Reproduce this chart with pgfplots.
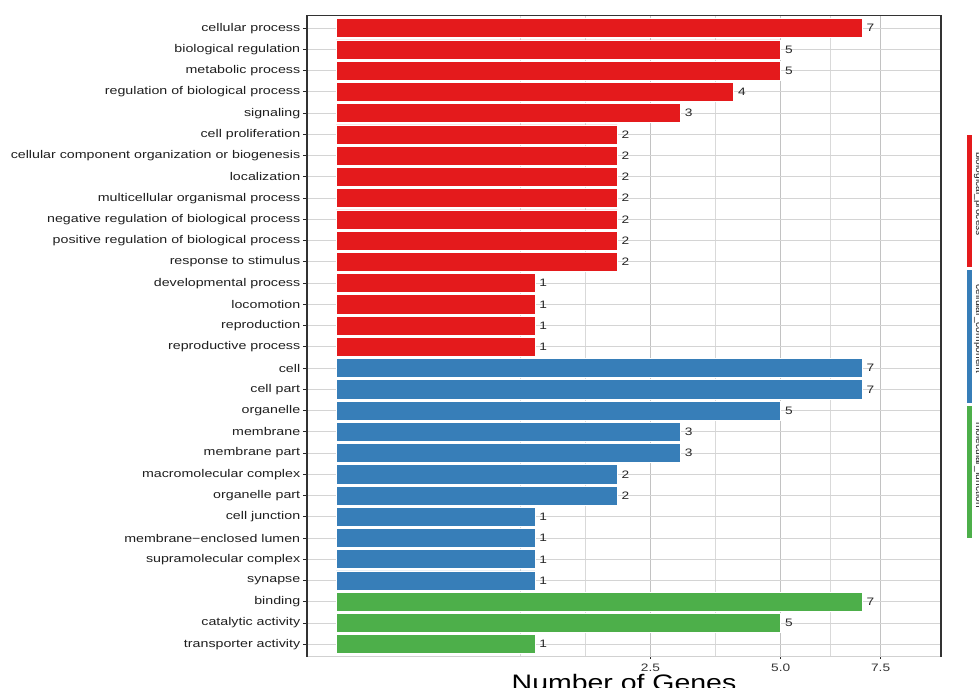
\documentclass[border=0pt]{standalone}
\usepackage{pgfplots}
\pgfplotsset{compat=1.18}
\usepackage{pgfplotstable}
\usepackage{fontspec}
\setmainfont{Liberation Sans}[FakeStretch=1.27]
\newfontfamily\keyfont{Liberation Sans}

\definecolor{bpred}{HTML}{E41A1C}
\definecolor{ccblue}{HTML}{377EB8}
\definecolor{mfgreen}{HTML}{4DAF4A}

% GO term counts, one table per ontology (idx = row from the top)
\pgfplotstableread{
idx n
0 7
1 5
2 5
3 4
4 3
5 2
6 2
7 2
8 2
9 2
10 2
11 2
12 1
13 1
14 1
15 1
}\bioproc
\pgfplotstableread{
idx n
16 7
17 7
18 5
19 3
20 3
21 2
22 2
23 1
24 1
25 1
26 1
}\cellcomp
\pgfplotstableread{
idx n
27 7
28 5
29 1
}\molfunc

\begin{document}
\begin{tikzpicture}
\begin{axis}[
  at={(153.5pt,15.5pt)}, anchor=south west,
  scale only axis, width=317pt, height=320.75pt,
  clip=false,
  xbar, bar width=0.9,
  % square-root scale on x: bars are drawn at sqrt(n)
  xmin=-0.1469, xmax=3.0423,
  ymin=-0.6, ymax=29.6, y dir=reverse,
  ytick={0,...,29},
  yticklabels={cellular process, biological regulation, metabolic process,
    regulation of biological process, signaling, cell proliferation,
    cellular component organization or biogenesis, localization,
    multicellular organismal process, negative regulation of biological process,
    positive regulation of biological process, response to stimulus,
    developmental process, locomotion, reproduction, reproductive process,
    cell, cell part, organelle, membrane, membrane part, macromolecular complex,
    organelle part, cell junction, membrane−enclosed lumen,
    supramolecular complex, synapse, binding, catalytic activity,
    transporter activity},
  xtick={1.5811388,2.2360680,2.7386128},
  xticklabels={2.5,5.0,7.5},
  minor xtick={0.9262096,1.2536742,1.9086034,2.4873404},
  xmajorgrids, xminorgrids, ymajorgrids,
  major x grid style={black!24, line width=0.6pt},
  minor x grid style={black!15, line width=0.4pt},
  major y grid style={black!17, line width=0.5pt},
  axis line style={draw=none},
  xtick pos=bottom, ytick pos=left,
  tick align=outside,
  major tick length=2pt,
  minor tick length=0pt,
  ytick style={black!85, line width=0.5pt},
  xtick style={black!85, line width=0.4pt, /pgfplots/major tick length=1pt},
  yticklabel style={font=\fontsize{5.6}{6}\selectfont, text=black!88,
    anchor=east, inner sep=0pt, xshift=-1.2pt},
  xticklabel style={font=\fontsize{5.4}{6}\selectfont, text=black!80,
    anchor=north, inner sep=0pt, yshift=-1.2pt},
  /pgf/number format/assume math mode=true,
  point meta=explicit,
  nodes near coords={\pgfmathprintnumber{\pgfplotspointmeta}},
  every node near coord/.append style={anchor=west, inner sep=0pt, xshift=2pt,
    font=\fontsize{5.4}{6}\selectfont, text=black!85},
]
\addplot[bar shift=0pt, fill=bpred, draw=white, line width=0.35pt]
  table[x expr={sqrt(\thisrow{n})}, y=idx, meta=n] {\bioproc};
\addplot[bar shift=0pt, fill=ccblue, draw=white, line width=0.35pt]
  table[x expr={sqrt(\thisrow{n})}, y=idx, meta=n] {\cellcomp};
\addplot[bar shift=0pt, fill=mfgreen, draw=white, line width=0.35pt]
  table[x expr={sqrt(\thisrow{n})}, y=idx, meta=n] {\molfunc};

% panel frame: dark on three sides, light along the bottom
\draw[black!18, line width=0.5pt] (rel axis cs:0,0) -- (rel axis cs:1,0);
\draw[black!80, line width=0.6pt] (rel axis cs:0,0) -- (rel axis cs:0,1)
  -- (rel axis cs:1,1) -- (rel axis cs:1,0);
\end{axis}

% ontology key on the right
\fill[bpred]   (483.25pt,210.5pt) rectangle (486.15pt,276.5pt);
\fill[ccblue]  (483.25pt,142.5pt) rectangle (486.15pt,209pt);
\fill[mfgreen] (483.25pt,75pt)    rectangle (486.15pt,141pt);
\begin{scope}[every node/.style={rotate=-90, anchor=south, inner sep=0pt,
    font=\keyfont\fontsize{5.1}{6}\selectfont, text=black!85}]
  \node at (486.8pt,247pt) {biological\_process};
  \node at (486.8pt,179.5pt) {cellular\_component};
  \node at (486.8pt,111.5pt) {molecular\_function};
\end{scope}

\node[anchor=base, inner sep=0pt, font=\fontsize{11.2}{13}\selectfont]
  at (312pt,-1.2pt) {Number of Genes};

\pgfresetboundingbox
\path (0pt,0pt) rectangle (489.5pt,344pt);
\end{tikzpicture}
\end{document}
